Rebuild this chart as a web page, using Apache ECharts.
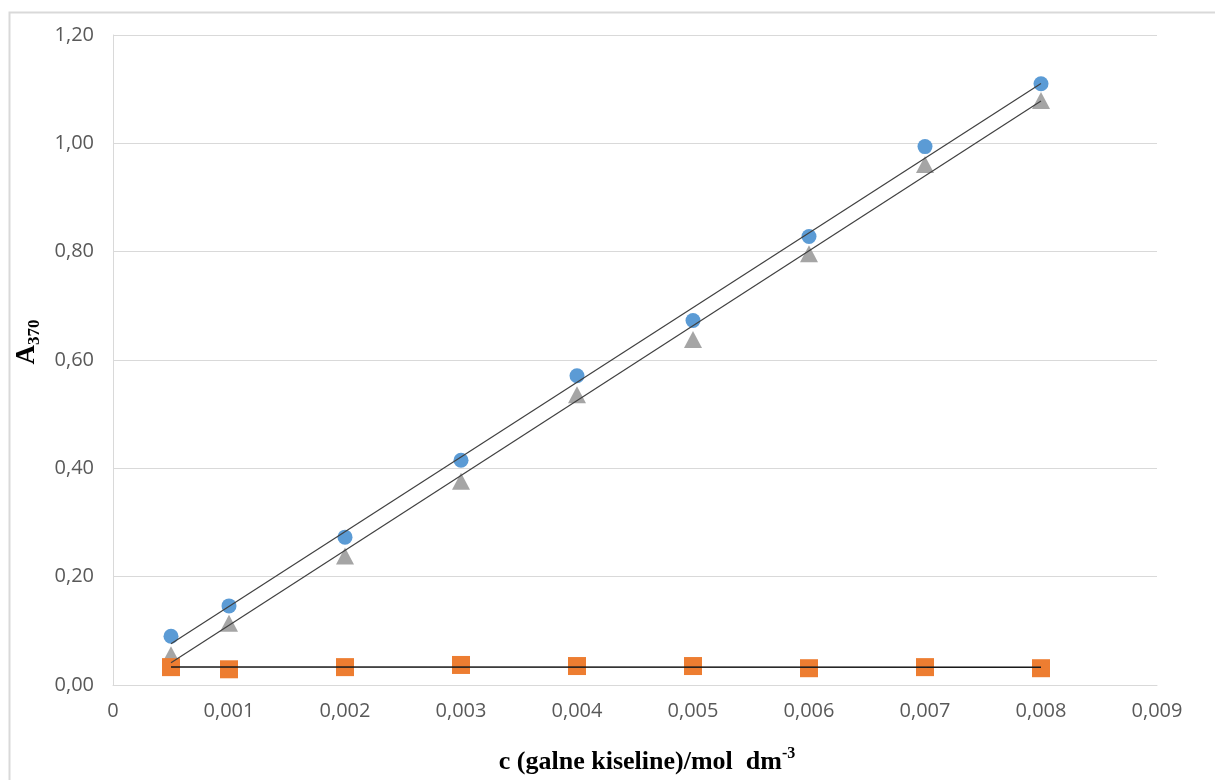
<!DOCTYPE html>
<html>
<head>
<meta charset="utf-8">
<script src="https://cdn.jsdelivr.net/npm/echarts@6/dist/echarts.min.js"></script>
<style>
html,body{margin:0;padding:0;background:#fff;}
#chart{width:1215px;height:780px;}
</style>
</head>
<body>
<div id="chart"></div>
<script>
// concentrations of gallic acid (mol dm^-3)
var concentrations = [0.0005, 0.001, 0.002, 0.003, 0.004, 0.005, 0.006, 0.007, 0.008];
// absorbance at 370 nm, three series
var seriesBlue   = [0.090, 0.146, 0.273, 0.415, 0.571, 0.673, 0.828, 0.994, 1.110];
var seriesOrange = [0.033, 0.029, 0.033, 0.037, 0.035, 0.035, 0.031, 0.033, 0.031];
var seriesGrey   = [0.056, 0.114, 0.238, 0.376, 0.536, 0.638, 0.796, 0.961, 1.079];

function pairs(xs, ys) { return xs.map(function (x, i) { return [x, ys[i]]; }); }
function linearFit(xs, ys) {
  var n = xs.length, sx = 0, sy = 0, sxx = 0, sxy = 0;
  for (var i = 0; i < n; i++) { sx += xs[i]; sy += ys[i]; sxx += xs[i]*xs[i]; sxy += xs[i]*ys[i]; }
  var b = (n*sxy - sx*sy) / (n*sxx - sx*sx);
  var a = (sy - b*sx) / n;
  var x0 = Math.min.apply(null, xs), x1 = Math.max.apply(null, xs);
  return [[x0, a + b*x0], [x1, a + b*x1]];
}

var chart = echarts.init(document.getElementById('chart'));
var labelFont = '"Open Sans", sans-serif';
var titleFont = '"Liberation Serif", "Times New Roman", serif';

function trend(ys, color, width) {
  return {
    type: 'line', data: linearFit(concentrations, ys), symbol: 'none', z: 5,
    lineStyle: { color: color, width: width }, silent: true, animation: false
  };
}

chart.setOption({
  animation: false,
  graphic: [{
    type: 'rect', left: 7, top: 10, silent: true,
    shape: { x: 0, y: 0, width: 1400, height: 900 },
    style: { fill: 'none', stroke: '#d9d9d9', lineWidth: 2 }
  }],
  grid: { left: 113, top: 35, right: 58, bottom: 94, containLabel: false },
  xAxis: {
    type: 'value', min: 0, max: 0.009, interval: 0.001,
    axisLine: { show: true, lineStyle: { color: '#d9d9d9', width: 1 } },
    axisTick: { show: false },
    splitLine: { show: false },
    axisLabel: {
      color: '#595959', fontFamily: labelFont, fontSize: 20, margin: 16,
      formatter: function (v) { return v === 0 ? '0' : v.toFixed(3).replace('.', ','); }
    },
    name: '{m|c (galne kiseline)/mol  dm}{s|-3}',
    nameLocation: 'middle', nameGap: 62,
    nameTextStyle: {
      padding: [0, 0, 0, 24],
      rich: {
        m: { fontFamily: titleFont, fontWeight: 'bold', fontSize: 26, color: '#000', lineHeight: 28, verticalAlign: 'bottom' },
        s: { fontFamily: titleFont, fontWeight: 'bold', fontSize: 16, color: '#000', lineHeight: 16, padding: [0, 0, 13, 0], verticalAlign: 'bottom' }
      }
    }
  },
  yAxis: {
    type: 'value', min: 0, max: 1.2, interval: 0.2,
    axisLine: { show: true, lineStyle: { color: '#d9d9d9', width: 1 } },
    axisTick: { show: false },
    splitLine: { show: true, lineStyle: { color: '#d9d9d9', width: 1 } },
    axisLabel: {
      color: '#595959', fontFamily: labelFont, fontSize: 20, margin: 19,
      formatter: function (v) { return v.toFixed(2).replace('.', ','); }
    },
    name: '{m|A}{s|370}',
    nameLocation: 'middle', nameGap: 73, nameRotate: 90,
    nameTextStyle: {
      padding: [0, 0, 0, 36],
      rich: {
        m: { fontFamily: titleFont, fontWeight: 'bold', fontSize: 27, color: '#000', lineHeight: 26, verticalAlign: 'top' },
        s: { fontFamily: titleFont, fontWeight: 'bold', fontSize: 17, color: '#000', lineHeight: 17, padding: [12, 0, 0, 0], verticalAlign: 'top' }
      }
    }
  },
  series: [
    { type: 'scatter', name: 'grey', data: pairs(concentrations, seriesGrey), symbol: 'triangle', symbolSize: [18, 17], itemStyle: { color: '#a5a5a5', opacity: 1 }, z: 2 },
    { type: 'scatter', name: 'orange', data: pairs(concentrations, seriesOrange), symbol: 'rect', symbolSize: 18, itemStyle: { color: '#ed7d31', opacity: 1 }, z: 3 },
    { type: 'scatter', name: 'blue', data: pairs(concentrations, seriesBlue), symbol: 'circle', symbolSize: 15, itemStyle: { color: '#5b9bd5', opacity: 1 }, z: 4 },
    trend(seriesBlue, '#404040', 1.2),
    trend(seriesGrey, '#404040', 1.2),
    trend(seriesOrange, '#1a1a1a', 1.6)
  ]
});
</script>
</body>
</html>
